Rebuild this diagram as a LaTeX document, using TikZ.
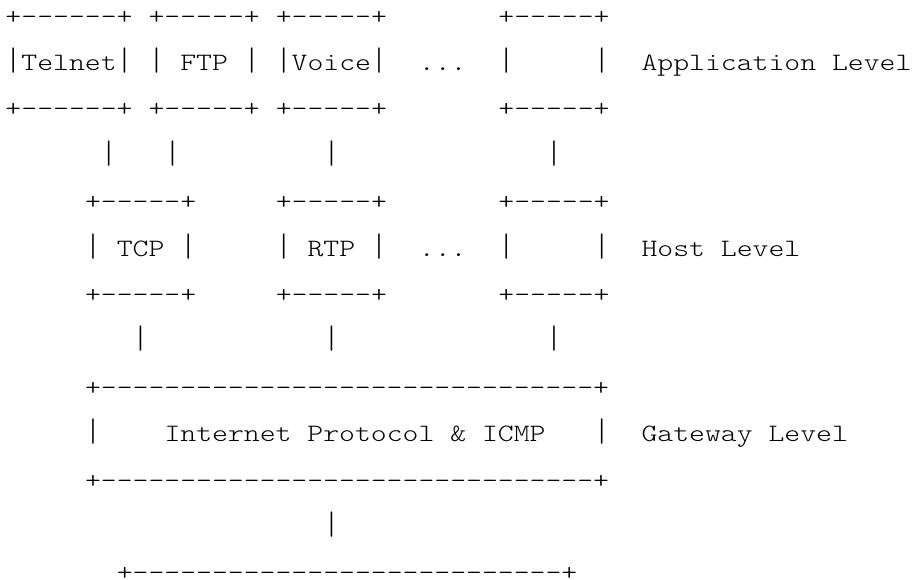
\documentclass[tikz,border=0pt]{standalone}
\usepackage{graphicx}
\usepackage{fontspec}
\newfontfamily\asciifont[Ligatures=TeXOff, FakeStretch=1.21]{Latin Modern Mono Light}
\newcommand\asciibar{\scalebox{1}[1.3]{|}}
\usetikzlibrary{positioning}

\begin{document}
\begin{tikzpicture}[
        x=15.9pt, y=-46.4pt,
        ascii/.style={anchor=base west, inner sep=0pt, outer sep=0pt,
            font=\asciifont\fontsize{25}{30}\selectfont},
    ]
    \useasboundingbox (-5.5pt,24pt) rectangle (913.5pt,-555pt);
    % application level
    \node[ascii] (telnet-top) at (0,0) {+------+};
    \node[ascii] (ftp-top) at (9,0) {+-----+};
    \node[ascii] (voice-top) at (17,0) {+-----+};
    \node[ascii] (app-top) at (31,0) {+-----+};
    \node[ascii] (telnet) at (0,1) {\asciibar Telnet\asciibar};
    \node[ascii] (ftp) at (9,1) {\asciibar{} FTP \asciibar};
    \node[ascii] (voice) at (17,1) {\asciibar Voice\asciibar};
    \node[ascii] (app-dots) at (26,1) {...};
    \node[ascii] (app-left) at (31,1) {\asciibar};
    \node[ascii] (app-right) at (37,1) {\asciibar};
    \node[ascii] (app-level) at (40,1) {Application Level};
    \node[ascii] (telnet-bot) at (0,2) {+------+};
    \node[ascii] (ftp-bot) at (9,2) {+-----+};
    \node[ascii] (voice-bot) at (17,2) {+-----+};
    \node[ascii] (app-bot) at (31,2) {+-----+};
    \foreach \c/\n in {6/telnet, 10/ftp, 20/voice, 34/app}
        \node[ascii] (\n-link) at (\c,3) {\asciibar};
    % host level
    \node[ascii] (tcp-top) at (5,4) {+-----+};
    \node[ascii] (rtp-top) at (17,4) {+-----+};
    \node[ascii] (host-top) at (31,4) {+-----+};
    \node[ascii] (tcp) at (5,5) {\asciibar{} TCP \asciibar};
    \node[ascii] (rtp) at (17,5) {\asciibar{} RTP \asciibar};
    \node[ascii] (host-dots) at (26,5) {...};
    \node[ascii] (host-left) at (31,5) {\asciibar};
    \node[ascii] (host-right) at (37,5) {\asciibar};
    \node[ascii] (host-level) at (40,5) {Host Level};
    \node[ascii] (tcp-bot) at (5,6) {+-----+};
    \node[ascii] (rtp-bot) at (17,6) {+-----+};
    \node[ascii] (host-bot) at (31,6) {+-----+};
    \foreach \c/\n in {8/tcp, 20/rtp, 34/host}
        \node[ascii] (\n-link) at (\c,7) {\asciibar};
    % gateway level
    \node[ascii] (ip-top) at (5,8) {+-------------------------------+};
    \node[ascii] (ip-left) at (5,9) {\asciibar};
    \node[ascii] (ip) at (10,9) {Internet Protocol \& ICMP};
    \node[ascii] (ip-right) at (37,9) {\asciibar};
    \node[ascii] (gw-level) at (40,9) {Gateway Level};
    \node[ascii] (ip-bot) at (5,10) {+-------------------------------+};
    \node[ascii] (ip-link) at (20,11) {\asciibar};
    \node[ascii] (net-top) at (7,12) {+---------------------------+};
\end{tikzpicture}
\end{document}
